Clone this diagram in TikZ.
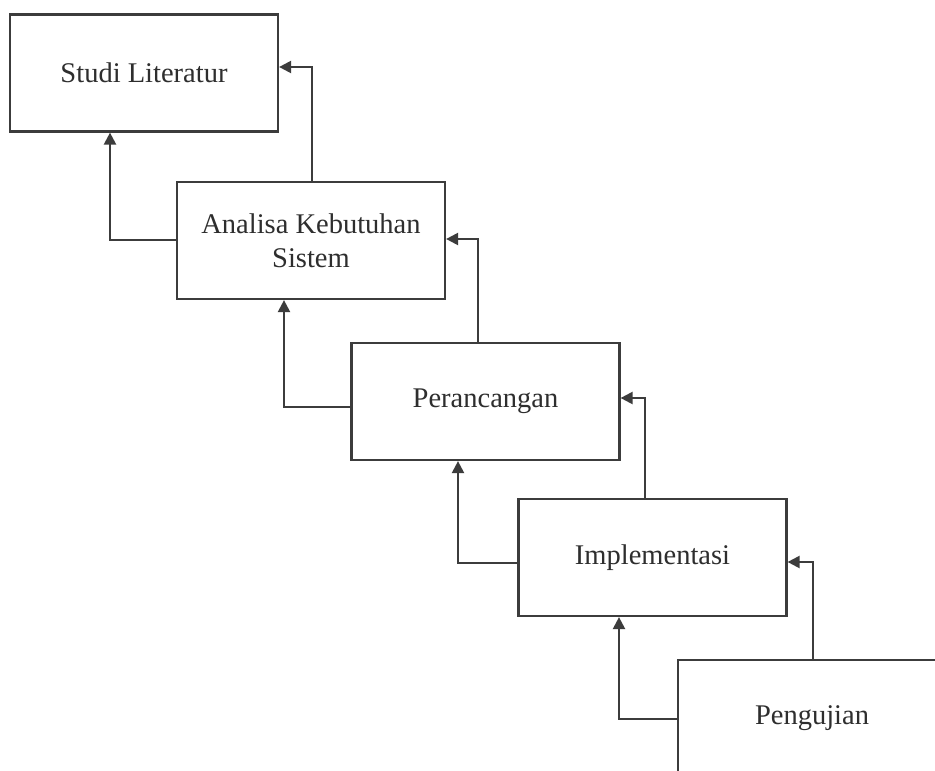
\documentclass[tikz,border=0pt]{standalone}
\usepackage{fontspec}
\setmainfont{Liberation Serif}
\usetikzlibrary{arrows.meta}
\definecolor{linegray}{HTML}{3C3C3C}
\definecolor{textgray}{HTML}{2E2E2E}
\begin{document}
\begin{tikzpicture}[x=1pt,y=-1pt,
  box/.style={draw=linegray, line width=2.2pt, minimum width=268pt, minimum height=117pt,
    align=center, text=textgray, font=\fontsize{28.5}{34}\selectfont, inner sep=0pt},
  arr/.style={draw=linegray, line width=2.2pt, -{Triangle[length=12pt,width=12pt]}}]
\useasboundingbox (0,0) rectangle (935,771);
\clip (0,0) rectangle (935,771);
\fill[white] (0,0) rectangle (935,771);
\node[box] (b1) at (144,73) {Studi Literatur};
\node[box] (b2) at (311,240.5) {Analisa Kebutuhan\\Sistem};
\node[box] (b3) at (485.5,401.5) {Perancangan};
\node[box] (b4) at (652.5,557.5) {Implementasi};
\node[box] (b5) at (812,718.5) {Pengujian};
\draw[arr] (b2.north -| 312,0) |- (b1.east |- 0,67);
\draw[arr] (b2.west |- 0,240) -| (b1.south -| 110,0);
\draw[arr] (b3.north -| 478,0) |- (b2.east |- 0,239);
\draw[arr] (b3.west |- 0,407) -| (b2.south -| 284,0);
\draw[arr] (b4.north -| 645,0) |- (b3.east |- 0,398);
\draw[arr] (b4.west |- 0,563) -| (b3.south -| 458,0);
\draw[arr] (b5.north -| 813,0) |- (b4.east |- 0,562);
\draw[arr] (b5.west |- 0,719) -| (b4.south -| 619,0);
\end{tikzpicture}
\end{document}
